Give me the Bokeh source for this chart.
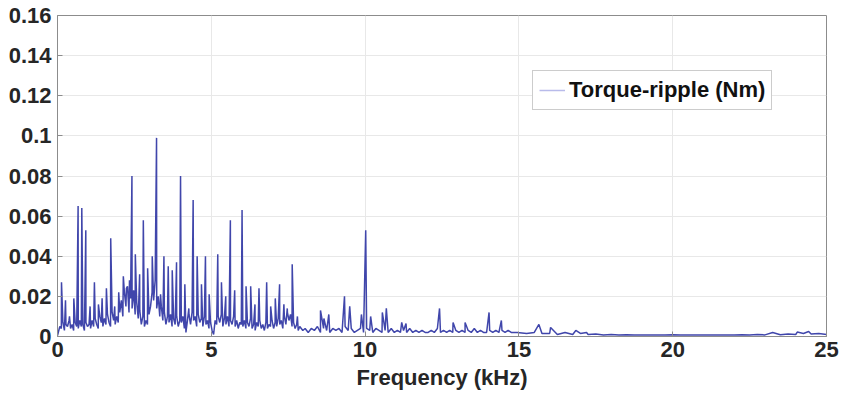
import numpy as np
from bokeh.plotting import figure
from bokeh.models import Range1d, FixedTicker, CustomJSTickFormatter, Legend, LegendItem
from bokeh.embed import file_html
from bokeh.resources import INLINE

# ---- data ----
# background spectrum, 0.025 .. 7.975 kHz every 0.05 kHz
bg_a_start = 0.025
bg_a_step = 0.05
bg_a = [
    0.002, 0.005, 0.004, 0.007, 0.003, 0.006, 0.005, 0.008, 0.004, 0.006, 0.003, 0.007, 0.005, 0.004, 0.008, 0.005, 0.006, 0.003, 0.007, 0.005,
    0.006, 0.004, 0.008, 0.005, 0.009, 0.006, 0.004, 0.010, 0.007, 0.005, 0.009, 0.006, 0.011, 0.007, 0.005, 0.012, 0.008, 0.006, 0.010, 0.007,
    0.012, 0.018, 0.010, 0.022, 0.015, 0.025, 0.012, 0.019, 0.014, 0.023, 0.011, 0.017, 0.009, 0.013, 0.006, 0.010, 0.005, 0.008, 0.006, 0.011,
    0.015, 0.022, 0.018, 0.028, 0.014, 0.020, 0.010, 0.015, 0.008, 0.012, 0.006, 0.010, 0.007, 0.011, 0.005, 0.009, 0.006, 0.010, 0.005, 0.008,
    0.007, 0.010, 0.004, 0.002, 0.008, 0.011, 0.006, 0.012, 0.008, 0.010, 0.005, 0.011, 0.007, 0.009, 0.005, 0.010, 0.006, 0.008, 0.004, 0.007,
    0.003, 0.001, 0.008, 0.006, 0.010, 0.007, 0.011, 0.005, 0.009, 0.006, 0.010, 0.005, 0.008, 0.006, 0.010, 0.005, 0.008, 0.004, 0.007, 0.006,
    0.005, 0.008, 0.004, 0.007, 0.005, 0.009, 0.004, 0.006, 0.003, 0.007, 0.005, 0.008, 0.004, 0.006, 0.003, 0.007, 0.004, 0.006, 0.005, 0.008,
    0.004, 0.007, 0.005, 0.009, 0.006, 0.008, 0.004, 0.010, 0.006, 0.012, 0.008, 0.011, 0.005, 0.007, 0.004, 0.006, 0.003, 0.005, 0.004, 0.003,
]
# background spectrum, 8.05 .. 14.95 kHz every 0.1 kHz
bg_b_start = 8.05
bg_b_step = 0.1
bg_b = [
    0.004, 0.002, 0.004, 0.003, 0.005, 0.002, 0.004, 0.003, 0.002, 0.004,
    0.003, 0.004, 0.002, 0.005, 0.003, 0.004, 0.002, 0.003, 0.004, 0.002,
    0.004, 0.003, 0.002, 0.004, 0.003, 0.002, 0.003, 0.002, 0.004, 0.002,
    0.003, 0.002, 0.003, 0.002, 0.004, 0.002, 0.003, 0.002, 0.003, 0.002,
    0.002, 0.003, 0.002, 0.004, 0.002, 0.003, 0.002, 0.003, 0.002, 0.003,
    0.002, 0.003, 0.002, 0.003, 0.002, 0.004, 0.002, 0.003, 0.002, 0.002,
    0.003, 0.002, 0.003, 0.002, 0.003, 0.002, 0.003, 0.002, 0.002, 0.002,
]
# background spectrum, 15.25 .. 25 kHz every 0.25 kHz
bg_c_start = 15.25
bg_c_step = 0.25
bg_c = [
    0.0015, 0.002, 0.0015, 0.0015, 0.001, 0.002, 0.001, 0.0015, 0.001, 0.0012,
    0.0008, 0.001, 0.0007, 0.0009, 0.0007, 0.0008, 0.0007, 0.0008, 0.0007, 0.0009,
    0.0007, 0.0008, 0.0007, 0.0008, 0.0007, 0.0008, 0.0008, 0.0007, 0.0009, 0.0008,
    0.001, 0.0008, 0.002, 0.0009, 0.0012, 0.001, 0.0015, 0.0012, 0.0015, 0.001,
]
# harmonic peaks (kHz, Nm)
peak_freq = [
    0.13, 0.26, 0.39, 0.53, 0.67, 0.79, 0.92, 1.06, 1.20, 1.33,
    1.45, 1.59, 1.73, 1.86, 1.99, 2.14, 2.24, 2.34, 2.42, 2.53,
    2.67, 2.79, 2.93, 3.08, 3.22, 3.35, 3.46, 3.60, 3.73, 3.87,
    4.00, 4.14, 4.27, 4.41, 4.54, 4.68, 4.81, 4.93, 5.21, 5.33,
    5.47, 5.62, 5.76, 6.00, 6.13, 6.28, 6.42, 6.55, 6.80, 6.93,
    7.08, 7.22, 7.36, 7.47, 7.63, 7.80, 8.55, 8.66, 8.82, 9.33,
    9.50, 9.88, 10.02, 10.18, 10.56, 10.69, 11.19, 11.33, 12.42, 12.86,
    13.25, 14.03, 14.43, 15.65, 16.03, 16.85, 17.2, 24.05, 24.42,
]
peak_amp = [
    0.027, 0.018, 0.010, 0.019, 0.065, 0.064, 0.053, 0.015, 0.027, 0.016,
    0.019, 0.024, 0.049, 0.015, 0.022, 0.030, 0.024, 0.028, 0.080, 0.041,
    0.031, 0.058, 0.034, 0.040, 0.099, 0.021, 0.040, 0.035, 0.033, 0.037,
    0.080, 0.026, 0.014, 0.068, 0.040, 0.026, 0.040, 0.021, 0.041, 0.027,
    0.020, 0.058, 0.023, 0.063, 0.025, 0.025, 0.016, 0.024, 0.027, 0.015,
    0.019, 0.026, 0.016, 0.014, 0.036, 0.010, 0.013, 0.009, 0.011, 0.020,
    0.015, 0.011, 0.053, 0.010, 0.012, 0.014, 0.007, 0.0065, 0.014, 0.007,
    0.007, 0.012, 0.008, 0.006, 0.0045, 0.003, 0.002, 0.0022, 0.0025,
]
start_point = (0.0, 0.0005)

x_ticks = [0, 5, 10, 15, 20, 25]
y_ticks = [0, 0.02, 0.04, 0.06, 0.08, 0.1, 0.12, 0.14, 0.16]

# ---- assemble the line ----
f_a = bg_a_start + bg_a_step * np.arange(len(bg_a))
f_b = bg_b_start + bg_b_step * np.arange(len(bg_b))
f_c = bg_c_start + bg_c_step * np.arange(len(bg_c))
freq = np.concatenate([[start_point[0]], f_a, f_b, f_c, peak_freq])
amp = np.concatenate([[start_point[1]], bg_a, bg_b, bg_c, peak_amp])
order = np.argsort(freq, kind="stable")
freq = freq[order]
amp = amp[order]

FONT = "Liberation Sans"
TXT = "#262626"

p = figure(width=841, height=406, output_backend="svg", toolbar_location=None,
           x_range=Range1d(0, 25), y_range=Range1d(0, 0.16),
           min_border_left=57, min_border_right=15, min_border_top=15, min_border_bottom=70)
p.background_fill_color = "white"
p.border_fill_color = "white"
p.outline_line_color = "#8c8c8c"
p.outline_line_width = 1

line_color = "#4046ab"
p.line(freq, amp, line_color=line_color, line_width=1.5)
# legend proxy: a single point, so nothing is drawn on the plot itself
proxy = p.line(freq[:1], amp[:1], line_color="#b8bbea", line_width=1.5)

legend = Legend(items=[LegendItem(label="Torque-ripple (Nm)", renderers=[proxy])],
                location=(475, 226))
legend.label_text_font = FONT
legend.label_text_font_style = "bold"
legend.label_text_font_size = "22px"
legend.label_text_color = "#111111"
legend.border_line_color = "#9a9a9a"
legend.border_line_width = 1
legend.background_fill_alpha = 1
legend.padding = 6
legend.margin = 0
legend.glyph_width = 26
legend.label_standoff = 4
legend.spacing = 0
p.add_layout(legend, "center")

for ax in (p.xaxis[0], p.yaxis[0]):
    ax.axis_line_color = "#8c8c8c"
    ax.major_tick_line_color = "#8c8c8c"
    ax.major_tick_in = 5
    ax.major_tick_out = 0
    ax.minor_tick_line_color = None
    ax.major_label_text_font = FONT
    ax.major_label_text_font_style = "bold"
    ax.major_label_text_font_size = "22px"
    ax.major_label_text_color = TXT

p.xaxis.ticker = FixedTicker(ticks=x_ticks)
p.yaxis.ticker = FixedTicker(ticks=y_ticks)
p.yaxis.formatter = CustomJSTickFormatter(code="return Number(tick.toFixed(2)).toString();")
p.xaxis.major_label_standoff = 5
p.yaxis.major_label_standoff = 6

p.xaxis.axis_label = "Frequency (kHz)"
p.xaxis.axis_label_text_font = FONT
p.xaxis.axis_label_text_font_style = "bold"
p.xaxis.axis_label_text_font_size = "22px"
p.xaxis.axis_label_text_color = TXT
p.xaxis.axis_label_standoff = 5

p.xgrid.ticker = FixedTicker(ticks=x_ticks)
p.ygrid.ticker = FixedTicker(ticks=y_ticks)
p.grid.grid_line_color = "#e8e8e8"
p.grid.grid_line_width = 1

open("out.html", "w").write(file_html(p, INLINE))
